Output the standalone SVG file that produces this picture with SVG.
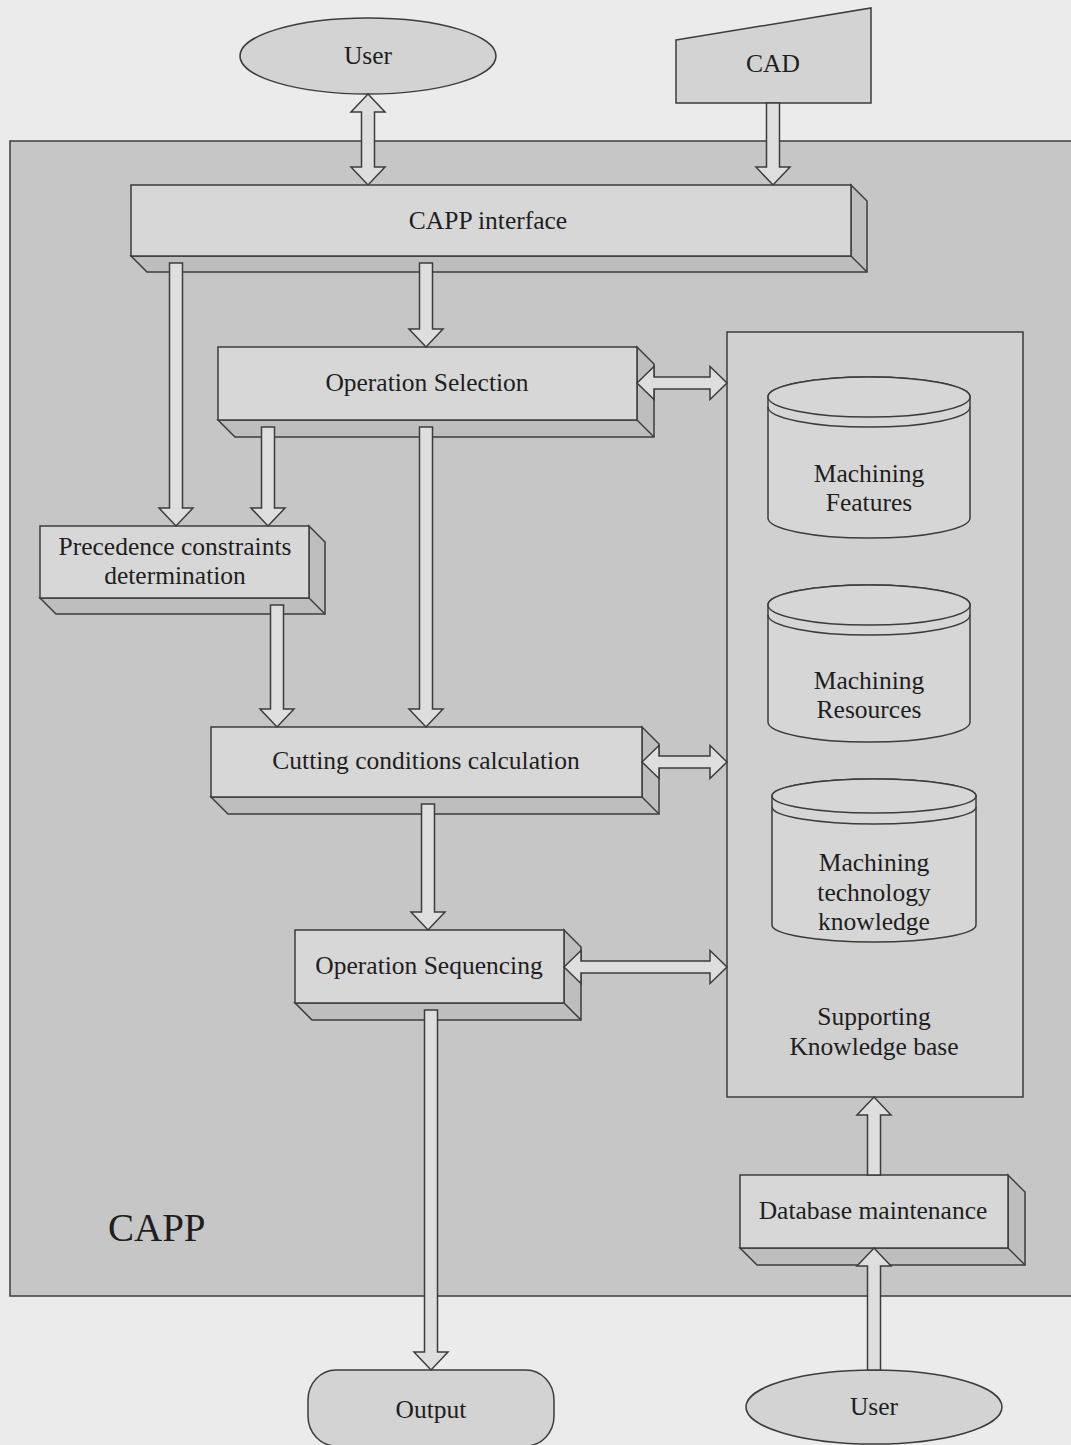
<svg xmlns="http://www.w3.org/2000/svg" width="1071" height="1445" viewBox="0 0 1071 1445">
  <style>
    .ln { stroke: #3c3c3c; stroke-width: 1.5; stroke-linejoin: miter; }
    .face { fill: #d7d7d7; }
    .side { fill: #bebebe; }
    .arrow { fill: #dedede; stroke: #3c3c3c; stroke-width: 1.5; stroke-linejoin: miter; }
    .lbl { font-family: "Liberation Serif", "Times New Roman", serif; font-size: 25.5px; fill: #1e1e1e; text-anchor: middle; }
    .big { font-family: "Liberation Serif", "Times New Roman", serif; font-size: 39px; fill: #1e1e1e; }
  </style>

  <!-- page -->
  <rect x="0" y="0" width="1071" height="1445" fill="#ebebeb"/>

  <!-- CAPP system boundary -->
  <g id="capp-boundary">
    <rect class="ln" x="10" y="141" width="1080" height="1155" fill="#c6c6c6"/>
    <text class="big" x="108" y="1241">CAPP</text>
  </g>

  <!-- external actors -->
  <g id="user-top">
    <ellipse class="ln" cx="368" cy="56" rx="128" ry="38" fill="#d3d3d3"/>
    <text class="lbl" x="368" y="64">User</text>
  </g>
  <g id="cad">
    <polygon class="ln" points="676,40 871,8 871,103 676,103" fill="#d3d3d3"/>
    <text class="lbl" x="773" y="72">CAD</text>
  </g>

  <!-- process blocks (front face + extruded side/bottom) -->
  <g id="capp-interface">
    <polygon class="ln side" points="131,256 147,272 867,272 867,201 851,185 851,256"/>
    <rect class="ln face" x="131" y="185" width="720" height="71"/>
    <line class="ln" x1="851" y1="256" x2="867" y2="272"/>
    <text class="lbl" x="488" y="229">CAPP interface</text>
  </g>

  <g id="operation-selection">
    <polygon class="ln side" points="218,420 235,437 654,437 654,364 637,347 637,420"/>
    <rect class="ln face" x="218" y="347" width="419" height="73"/>
    <line class="ln" x1="637" y1="420" x2="654" y2="437"/>
    <text class="lbl" x="427" y="391">Operation Selection</text>
  </g>

  <g id="precedence">
    <polygon class="ln side" points="40,598 56,614 325,614 325,542 309,526 309,598"/>
    <rect class="ln face" x="40" y="526" width="269" height="72"/>
    <line class="ln" x1="309" y1="598" x2="325" y2="614"/>
    <text class="lbl" x="175" y="555">Precedence constraints</text>
    <text class="lbl" x="175" y="584">determination</text>
  </g>

  <g id="cutting-conditions">
    <polygon class="ln side" points="211,797 228,814 659,814 659,744 642,727 642,797"/>
    <rect class="ln face" x="211" y="727" width="431" height="70"/>
    <line class="ln" x1="642" y1="797" x2="659" y2="814"/>
    <text class="lbl" x="426" y="769">Cutting conditions calculation</text>
  </g>

  <g id="operation-sequencing">
    <polygon class="ln side" points="295,1003 312,1020 581,1020 581,947 564,930 564,1003"/>
    <rect class="ln face" x="295" y="930" width="269" height="73"/>
    <line class="ln" x1="564" y1="1003" x2="581" y2="1020"/>
    <text class="lbl" x="429" y="974">Operation Sequencing</text>
  </g>

  <!-- knowledge base with its stores -->
  <g id="knowledge-base">
    <rect class="ln" x="727" y="332" width="296" height="765" fill="#d0d0d0"/>
    <text class="lbl" x="874" y="1025">Supporting</text>
    <text class="lbl" x="874" y="1055">Knowledge base</text>
  </g>

  <g id="store-features">
    <path class="ln" d="M768,397 A101,20 0 0 1 970,397 L970,518 A101,20 0 0 1 768,518 Z" fill="#d6d6d6"/>
    <ellipse class="ln" cx="869" cy="397" rx="101" ry="20" fill="#d6d6d6"/>
    <path class="ln" d="M768,407 A101,20 0 0 0 970,407" fill="none"/>
    <text class="lbl" x="869" y="482">Machining</text>
    <text class="lbl" x="869" y="511">Features</text>
  </g>

  <g id="store-resources">
    <path class="ln" d="M768,605 A101,20 0 0 1 970,605 L970,722 A101,20 0 0 1 768,722 Z" fill="#d6d6d6"/>
    <ellipse class="ln" cx="869" cy="605" rx="101" ry="20" fill="#d6d6d6"/>
    <path class="ln" d="M768,615 A101,20 0 0 0 970,615" fill="none"/>
    <text class="lbl" x="869" y="689">Machining</text>
    <text class="lbl" x="869" y="718">Resources</text>
  </g>

  <g id="store-technology">
    <path class="ln" d="M772,796 A102,17 0 0 1 976,796 L976,925 A102,17 0 0 1 772,925 Z" fill="#d6d6d6"/>
    <ellipse class="ln" cx="874" cy="796" rx="102" ry="17" fill="#d6d6d6"/>
    <path class="ln" d="M772,807 A102,17 0 0 0 976,807" fill="none"/>
    <text class="lbl" x="874" y="871">Machining</text>
    <text class="lbl" x="874" y="901">technology</text>
    <text class="lbl" x="874" y="930">knowledge</text>
  </g>

  <g id="database-maintenance">
    <polygon class="ln side" points="740,1248 757,1265 1025,1265 1025,1192 1008,1175 1008,1248"/>
    <rect class="ln face" x="740" y="1175" width="268" height="73"/>
    <line class="ln" x1="1008" y1="1248" x2="1025" y2="1265"/>
    <text class="lbl" x="873" y="1219">Database maintenance</text>
  </g>

  <!-- outputs / bottom actor -->
  <g id="output">
    <rect class="ln" x="308" y="1370" width="246" height="76" rx="28" ry="30" fill="#d3d3d3"/>
    <text class="lbl" x="431" y="1418">Output</text>
  </g>
  <g id="user-bottom">
    <ellipse class="ln" cx="874" cy="1407" rx="128" ry="37" fill="#d3d3d3"/>
    <text class="lbl" x="874" y="1415">User</text>
  </g>

  <!-- block arrows -->
  <g id="connectors">
    <!-- User <-> CAPP interface -->
    <polygon class="arrow" points="368,94 385,112 374.5,112 374.5,167 385,167 368,185 351,167 361.5,167 361.5,112 351,112"/>
    <!-- CAD -> CAPP interface -->
    <polygon class="arrow" points="766.5,103 779.5,103 779.5,167 790,167 773,185 756,167 766.5,167"/>
    <!-- CAPP interface -> Precedence -->
    <polygon class="arrow" points="169.5,263 182.5,263 182.5,508 193,508 176,526 159,508 169.5,508"/>
    <!-- CAPP interface -> Operation Selection -->
    <polygon class="arrow" points="419.5,263 432.5,263 432.5,329 443,329 426,347 409,329 419.5,329"/>
    <!-- Operation Selection -> Precedence -->
    <polygon class="arrow" points="261.5,427 274.5,427 274.5,508 285,508 268,526 251,508 261.5,508"/>
    <!-- Operation Selection -> Cutting conditions -->
    <polygon class="arrow" points="419.5,427 432.5,427 432.5,709 443,709 426,727 409,709 419.5,709"/>
    <!-- Precedence -> Cutting conditions -->
    <polygon class="arrow" points="270.5,605 283.5,605 283.5,709 294,709 277,727 260,709 270.5,709"/>
    <!-- Cutting conditions -> Operation Sequencing -->
    <polygon class="arrow" points="421.5,804 434.5,804 434.5,912 445,912 428,930 411,912 421.5,912"/>
    <!-- Operation Sequencing -> Output -->
    <polygon class="arrow" points="424.5,1010 437.5,1010 437.5,1352 448,1352 431,1370 414,1352 424.5,1352"/>
    <!-- Operation Selection <-> Knowledge base -->
    <polygon class="arrow" points="637,383 654,366.5 654,377 710,377 710,366.5 727,383 710,399.5 710,389 654,389 654,399.5"/>
    <!-- Cutting conditions <-> Knowledge base -->
    <polygon class="arrow" points="642,762 659,745.5 659,756 710,756 710,745.5 727,762 710,778.5 710,768 659,768 659,778.5"/>
    <!-- Operation Sequencing <-> Knowledge base -->
    <polygon class="arrow" points="564,967 581,950.5 581,961 710,961 710,950.5 727,967 710,983.5 710,973 581,973 581,983.5"/>
    <!-- Database maintenance -> Knowledge base -->
    <polygon class="arrow" points="867.5,1175 880.5,1175 880.5,1115 891,1115 874,1097 857,1115 867.5,1115"/>
    <!-- User -> Database maintenance -->
    <polygon class="arrow" points="867.5,1370 880.5,1370 880.5,1266 891,1266 874,1248 857,1266 867.5,1266"/>
  </g>
</svg>
